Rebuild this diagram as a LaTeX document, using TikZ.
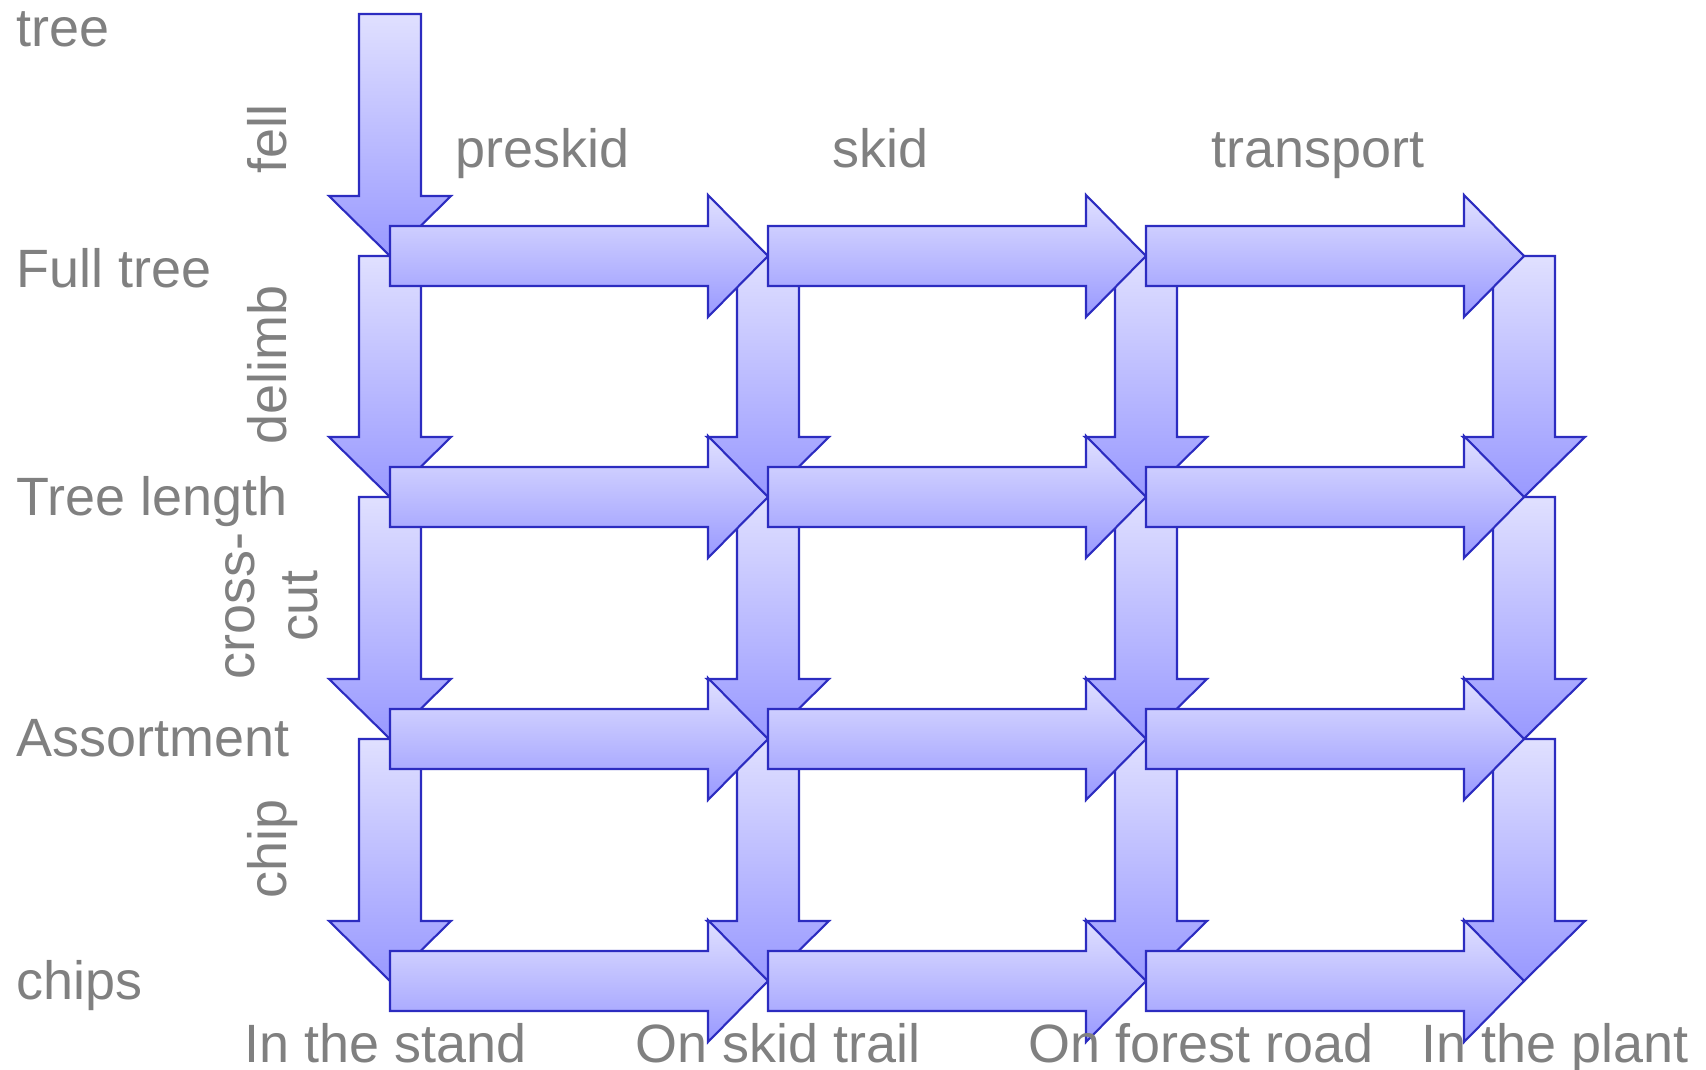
\documentclass[tikz,border=0pt]{standalone}
\usepackage{fontspec}
\setmainfont{Liberation Sans}
\usetikzlibrary{calc}

\definecolor{flowline}{RGB}{44,44,192}
\definecolor{flowtop}{RGB}{224,224,255}
\definecolor{flowbottom}{RGB}{153,153,255}
\definecolor{labelgray}{RGB}{128,128,128}

% fat arrows between two grid points
\newcommand{\harrow}[2]{%
  \path[flow] ($(#1)+(0,-30)$) -- ($(#2)+(-60,-30)$) -- ($(#2)+(-60,-61)$) -- (#2)
    -- ($(#2)+(-60,61)$) -- ($(#2)+(-60,30)$) -- ($(#1)+(0,30)$) -- cycle;}
\newcommand{\varrow}[2]{%
  \path[flow] ($(#1)+(-31,0)$) -- ($(#2)+(-31,-60)$) -- ($(#2)+(-61,-60)$) -- (#2)
    -- ($(#2)+(61,-60)$) -- ($(#2)+(31,-60)$) -- ($(#1)+(31,0)$) -- cycle;}

\begin{document}
\begin{tikzpicture}[x=0.1mm,y=-0.1mm]

\tikzset{flow/.style={draw=flowline, line width=0.6pt, line join=miter,
                      top color=flowtop, bottom color=flowbottom},
         txt/.style={text=labelgray, inner sep=0pt,
                     font=\fontsize{15.35}{17.9}\selectfont}}

\useasboundingbox (0,0) rectangle (1706,1070);

% grid of places
\foreach \col/\x in {1/390,2/768,3/1146,4/1524}
  \foreach \row/\y in {1/256,2/497,3/739,4/981}
    \coordinate (p\row\col) at (\x,\y);
\coordinate (start) at (390,14);

% fell, delimb, cross-cut, chip
\varrow{start}{p11}
\foreach \col in {1,...,4}
  \foreach \row/\next in {1/2,2/3,3/4}
    \varrow{p\row\col}{p\next\col};

% preskid, skid, transport
\foreach \row in {1,...,4}
  \foreach \col/\next in {1/2,2/3,3/4}
    \harrow{p\row\col}{p\row\next};

\node[txt, anchor=base west] (tree)       at (16,46)  {tree};
\node[txt, anchor=base west] (fulltree)   at (16,287) {Full tree};
\node[txt, anchor=base west] (treelength) at (16,515) {Tree length};
\node[txt, anchor=base west] (assortment) at (16,756) {Assortment};
\node[txt, anchor=base west] (chips)      at (16,999) {chips};

\node[txt, rotate=90, anchor=base] (fell)   at (286,139) {fell};
\node[txt, rotate=90, anchor=base] (delimb) at (286,365) {delimb};
\node[txt, rotate=90, align=center] (crosscut) at (272,606) {cross-\\cut};
\node[txt, rotate=90, anchor=base] (chip)   at (286,849) {chip};

\node[txt, anchor=base west] (preskid)   at (455,167)  {preskid};
\node[txt, anchor=base west] (skid)      at (832,167)  {skid};
\node[txt, anchor=base west] (transport) at (1211,167) {transport};

\node[txt, anchor=base west] (stand)  at (244,1062)  {In the stand};
\node[txt, anchor=base west] (trail)  at (635,1062)  {On skid trail};
\node[txt, anchor=base west] (road)   at (1028,1062) {On forest road};
\node[txt, anchor=base west] (plant)  at (1421,1062) {In the plant};

\end{tikzpicture}
\end{document}
